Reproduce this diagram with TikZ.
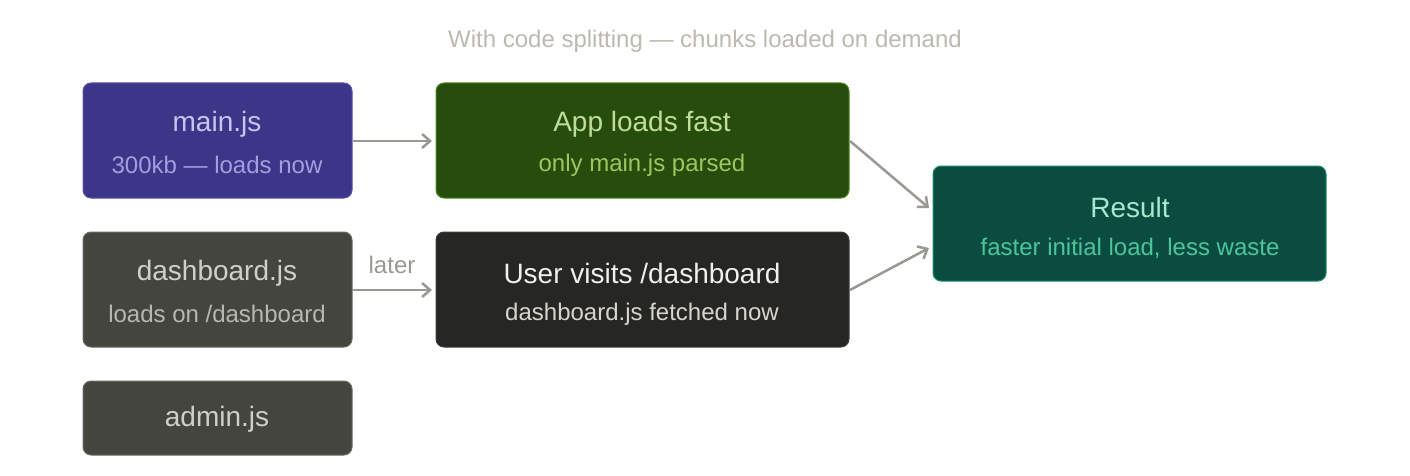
\documentclass[tikz,border=0pt]{standalone}
\usepackage{fontspec}
\setmainfont{Liberation Sans}
\usetikzlibrary{arrows.meta}
\definecolor{tt}{HTML}{BBB9B0}
\definecolor{ar}{HTML}{9A9893}
\definecolor{mainf}{HTML}{3D3587}
\definecolor{maind}{HTML}{5B4FB0}
\begin{document}
\begin{tikzpicture}[x=1pt,y=-1pt,
 box/.style={draw,line width=1pt,rounded corners=8pt},
 big/.style={font=\fontsize{28}{32}\selectfont},
 small/.style={font=\fontsize{24}{28}\selectfont},
 arr/.style={draw=ar,line width=2.5pt,-{Straight Barb[length=8pt,width=14pt]}}]
\useasboundingbox (0,0) rectangle (1410,476);
\node[tt,small] (title) at (705,41) {With code splitting — chunks loaded on demand};
\path[box,fill=mainf,draw=maind] (83,83) rectangle (352,198);
\node[big,text={rgb,255:red,200;green,196;blue,240}] (mt) at (217,124) {main.js};
\node[small,text={rgb,255:red,165;green,157;blue,224}] (ms) at (217,165) {300kb — loads now};
\path[box,fill={rgb,255:red,38;green,77;blue,12},draw={rgb,255:red,76;green,138;blue,30}] (436,83) rectangle (849,198);
\node[big,text={rgb,255:red,192;green,220;blue,154}] (at) at (642,124) {App loads fast};
\node[small,text={rgb,255:red,156;green,199;blue,96}] (as) at (642,165) {only main.js parsed};
\path[box,fill={rgb,255:red,69;green,69;blue,64},draw={rgb,255:red,106;green,106;blue,100}] (83,232) rectangle (352,347);
\node[big,text={rgb,255:red,208;green,207;blue,200}] (dt) at (217,273) {dashboard.js};
\node[small,text={rgb,255:red,184;green,183;blue,176}] (ds) at (217,314) {loads on /dashboard};
\path[box,fill={rgb,255:red,38;green,38;blue,36},draw={rgb,255:red,60;green,60;blue,58}] (436,232) rectangle (849,347);
\node[big,text={rgb,255:red,240;green,240;blue,240}] (ut) at (642,273) {User visits /dashboard};
\node[small,text={rgb,255:red,215;green,213;blue,205}] (us) at (642,314) {dashboard.js fetched now};
\path[box,fill={rgb,255:red,69;green,69;blue,64},draw={rgb,255:red,106;green,106;blue,100}] (83,381) rectangle (352,455);
\node[big,text={rgb,255:red,208;green,207;blue,200}] (ad) at (217,419) {admin.js};
\path[box,fill={rgb,255:red,10;green,77;blue,64},draw={rgb,255:red,26;green,138;blue,112}] (933,166) rectangle (1326,281);
\node[big,text={rgb,255:red,168;green,230;blue,208}] (rt) at (1130,207) {Result};
\node[small,text={rgb,255:red,76;green,196;blue,156}] (rs) at (1130,248) {faster initial load, less waste};
\coordinate (a1) at (352,141); \coordinate (b1) at (432,141);
\coordinate (a2) at (352,290); \coordinate (b2) at (432,290);
\coordinate (a3) at (850,141); \coordinate (b3) at (929,208);
\coordinate (a4) at (850,290); \coordinate (b4) at (929,248);
\draw[arr] (a1) -- (b1);
\draw[arr] (a2) -- (b2);
\draw[arr] (a3) -- (b3);
\draw[arr] (a4) -- (b4);
\node[small,text=ar] (later) at (392,265) {later};
\end{tikzpicture}
\end{document}
